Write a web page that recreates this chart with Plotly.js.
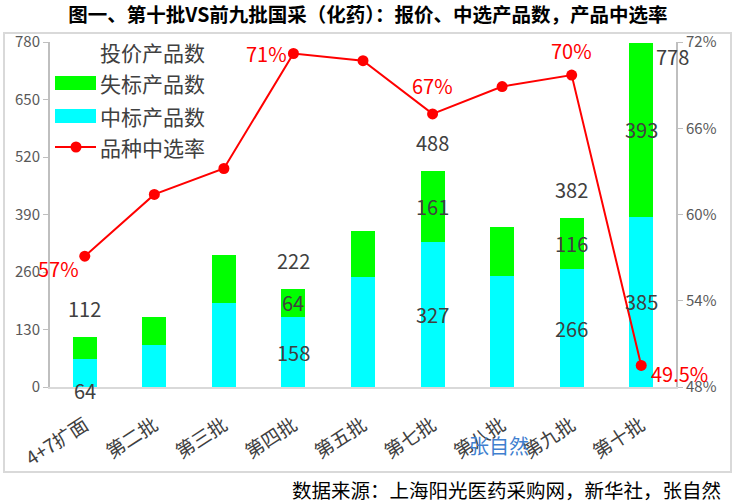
<!DOCTYPE html>
<html><head><meta charset="utf-8">
<script src="https://cdn.plot.ly/plotly-3.0.1.min.js"></script>
<style>html,body{margin:0;padding:0;background:#fff;}#c{width:736px;height:504px;}</style>
</head><body><div id="c"></div>
<script>
const categories = ['4+7扩面','第二批','第三批','第四批','第五批','第七批','第八批','第九批','第十批'];
const winCount = [64, 95, 189, 158, 249, 327, 251, 266, 385];      // 中标产品数
const loseCount = [48, 63, 110, 64, 104, 161, 111, 116, 393];      // 失标产品数
const bidCount = [112, 158, 299, 222, 353, 488, 362, 382, 778];    // 投价产品数
const rate = [57.1, 61.4, 63.2, 71.2, 70.7, 67.0, 68.9, 69.7, 49.5]; // 品种中选率 %
const rateLabels = ['57%','','','71%','','67%','','70%','49.5%'];
const showBidLabel = [true,false,false,true,false,true,false,true,true];
const showWinLabel = [true,false,false,true,false,true,false,true,true];
const showLoseLabel = [false,false,false,true,false,true,false,true,true];
const seriesNames = ['投价产品数','失标产品数','中标产品数','品种中选率'];
const titleText = '图一、第十批VS前九批国采（化药）：报价、中选产品数，产品中选率';
const sourceText = '数据来源：上海阳光医药采购网，新华社，张自然';
const watermark = '张自然';

const FONT = '"Noto Sans CJK SC","Noto Sans",sans-serif';
const LBL = '#404040';
const GREEN = '#00ff00', CYAN = '#00ffff', RED = '#ff0000';

const L=50, R=676, T=42, B=387;
const pw=R-L, ph=B-T;
function px(x){return (x-L)/pw;}
function py(y){return (B-y)/ph;}

const traces = [
  {type:'bar', name:seriesNames[2], x:categories, y:winCount, marker:{color:CYAN}},
  {type:'bar', name:seriesNames[1], x:categories, y:loseCount, marker:{color:GREEN}},
  {type:'scatter', mode:'lines+markers', name:seriesNames[3], x:categories, y:rate, yaxis:'y2',
   line:{color:RED, width:2}, marker:{color:RED, size:11}}
];

const ann = [];
const dfont = {size:20, color:LBL, family:FONT};
categories.forEach((c,i)=>{
  if (showBidLabel[i]) {
    if (i === categories.length-1) {
      ann.push({x:c, y:bidCount[i], xref:'x', yref:'y', text:String(bidCount[i]), showarrow:false,
        xanchor:'left', yanchor:'top', xshift:13, yshift:3, font:dfont});
    } else {
      ann.push({x:c, y:bidCount[i], xref:'x', yref:'y', text:String(bidCount[i]), showarrow:false,
        xanchor:'center', yanchor:'bottom', yshift:12, font:dfont});
    }
  }
  if (showWinLabel[i]) {
    if (i === 0) {
      ann.push({x:c, y:0, xref:'x', yref:'y', text:String(winCount[i]), showarrow:false,
        xanchor:'center', yanchor:'middle', yshift:-3, font:dfont});
    } else {
      ann.push({x:c, y:winCount[i]/2, xref:'x', yref:'y', text:String(winCount[i]), showarrow:false,
        xanchor:'center', yanchor:'middle', font:dfont});
    }
  }
  if (showLoseLabel[i]) {
    ann.push({x:c, y:winCount[i]+loseCount[i]/2, xref:'x', yref:'y', text:String(loseCount[i]), showarrow:false,
      xanchor:'center', yanchor:'middle', font:dfont});
  }
});
const ratePos = {
  0:{xanchor:'right', yanchor:'middle', xshift:-4, yshift:-12},
  3:{xanchor:'right', yanchor:'middle', xshift:-4, yshift:0},
  5:{xanchor:'center', yanchor:'bottom', xshift:0, yshift:12},
  7:{xanchor:'center', yanchor:'bottom', xshift:0, yshift:8},
  8:{xanchor:'left', yanchor:'middle', xshift:8, yshift:-8}
};
rateLabels.forEach((t,i)=>{
  if (!t) return;
  ann.push(Object.assign({x:categories[i], y:rate[i], xref:'x', yref:'y2', text:t, showarrow:false,
    font:{size:20, color:RED, family:FONT}}, ratePos[i]));
});
ann.push({x:px(499), y:py(445), xref:'paper', yref:'paper', text:watermark, showarrow:false,
  xanchor:'center', yanchor:'middle', font:{size:20, color:'#3f7fcf', family:FONT}});
ann.push({x:px(723), y:py(490), xref:'paper', yref:'paper', text:sourceText, showarrow:false,
  xanchor:'right', yanchor:'middle', font:{size:19.5, color:'#000', family:FONT}});

// manual legend (wide swatches as in the reference)
const legRows = [52, 83, 116, 147];
const lfont = {size:21, color:LBL, family:FONT};
seriesNames.forEach((n,k)=>{
  ann.push({x:px(98), y:py(legRows[k]), xref:'paper', yref:'paper', text:n, showarrow:false,
    xanchor:'left', yanchor:'middle', font:lfont});
});
const shapes = [
  {type:'rect', xref:'paper', yref:'paper', x0:px(4), x1:px(731), y0:py(472), y1:py(33),
    line:{color:'#d9d9d9', width:2}, fillcolor:'rgba(0,0,0,0)', layer:'below'},
  {type:'rect', xref:'paper', yref:'paper', x0:px(55), x1:px(96), y0:py(legRows[1]+7), y1:py(legRows[1]-7),
    line:{width:0}, fillcolor:GREEN},
  {type:'rect', xref:'paper', yref:'paper', x0:px(55), x1:px(96), y0:py(legRows[2]+7), y1:py(legRows[2]-7),
    line:{width:0}, fillcolor:CYAN},
  {type:'line', xref:'paper', yref:'paper', x0:px(55), x1:px(96), y0:py(legRows[3]), y1:py(legRows[3]),
    line:{color:RED, width:2}},
  {type:'circle', xref:'paper', yref:'paper', x0:px(70.5), x1:px(81.5), y0:py(legRows[3]+5.5), y1:py(legRows[3]-5.5),
    line:{width:0}, fillcolor:RED}
];

const layout = {
  width:736, height:504,
  margin:{l:L, r:736-R, t:T, b:504-B, pad:0},
  paper_bgcolor:'#fff', plot_bgcolor:'#fff',
  font:{family:FONT, color:LBL},
  title:{text:'<b>'+titleText+'</b>',
    font:{size:19.5, color:'#000', family:FONT}, x:0.5, xref:'container', xanchor:'center',
    y:1-15/504, yref:'container', yanchor:'middle'},
  barmode:'stack', bargap:0.655,
  showlegend:false,
  xaxis:{type:'category', range:[-0.5,8.5], showline:true, linecolor:'#d9d9d9', linewidth:2,
    tickangle:-33, tickfont:{size:19, color:LBL, family:FONT}, ticks:'outside', ticklen:18, tickcolor:'rgba(0,0,0,0)',
    showgrid:false, zeroline:false, automargin:false},
  yaxis:{range:[0,780], dtick:130, tick0:0, showline:true, linecolor:'#bfbfbf', linewidth:2,
    ticks:'outside', ticklen:5, tickcolor:'#bfbfbf', tickfont:{size:15, color:'#595959', family:FONT},
    showgrid:false, zeroline:false, automargin:false},
  yaxis2:{range:[48,72], dtick:6, tick0:48, ticksuffix:'%', overlaying:'y', side:'right', showline:true,
    linecolor:'#bfbfbf', linewidth:2, ticks:'outside', ticklen:5, tickcolor:'#bfbfbf',
    tickfont:{size:15, color:'#595959', family:FONT}, showgrid:false, zeroline:false, automargin:false},
  annotations:ann,
  shapes:shapes
};
Plotly.newPlot('c', traces, layout, {displayModeBar:false, staticPlot:true});
</script></body></html>
